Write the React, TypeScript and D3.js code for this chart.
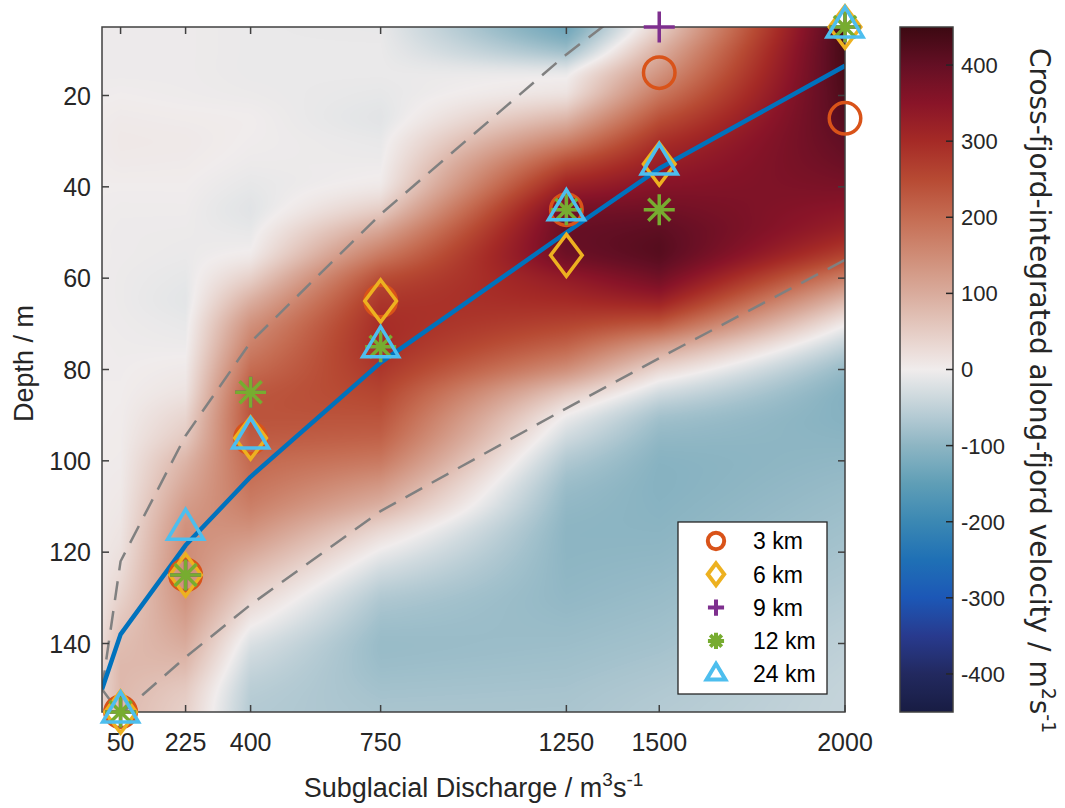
import React, { useMemo } from "react";
import * as d3 from "d3";

// Model runs: subglacial discharge (m^3 s^-1) and the depth of the outflow peak per distance
const discharge = [50, 225, 400, 750, 1250, 1500, 2000];
const depth3km = [155, 125, 95, 65, 45, 15, 25];
const depth6km = [155, 125, 95, 65, 55, 35, 5];
const depth9km = [155, 125, 85, 75, 45, 5, 5];
const depth12km = [155, 125, 85, 75, 45, 45, 5];
const depth24km = [155, 115, 95, 75, 45, 35, 5];

// Plume theory: neutral buoyancy depth and its upper / lower bounds
const curveDischarge = [0, 50, 225, 400, 750, 1250, 1500, 2000];
const curveDepth = [150, 138, 118.5, 103.5, 78.5, 50, 36, 13.5];
const upperDepth = [150, 122, 94.5, 74, 46, 11, -4.5, -35];
const lowerDepth = [150, 155.5, 143, 131.5, 111, 88.5, 77.5, 56];

// Cross-fjord-integrated along-fjord velocity, one column per discharge
const fieldDischarge = [0, 50, 225, 400, 750, 1250, 1500, 2000];
const fieldDepth = [5, 10, 15, 20, 25, 30, 35, 40, 45, 50, 55, 60, 65, 70, 75, 80, 85, 90, 95, 100, 105, 110, 115, 120, 125, 130, 135, 140, 145, 150, 155];
const vel0 = [-3, -3, -3, -1, 2, 3, 2, 0, -1, -2, -2, -2, -2, -2, -1, -1, 0, 0, 1, 2, 3, 4, 6, 8, 11, 15, 20, 27, 33, 38, 40];
const vel50 = [-3, -3, -3, 0, 4, 6, 4, 0, -2, -3, -3, -4, -4, -3, -2, -1, 0, 1, 2, 3, 5, 8, 12, 18, 28, 42, 58, 72, 80, 80, 78];
const vel225 = [-3, -3, -3, -2, 2, 5, 3, 0, -2, -4, -6, -10, -13, -8, -3, 5, 15, 35, 55, 85, 105, 125, 142, 150, 150, 138, 120, 100, 78, 55, 45];
const vel400 = [-6, -6, -6, -4, 0, -1, -4, -10, -16, -8, 5, 45, 95, 140, 170, 200, 228, 235, 225, 205, 190, 170, 140, 105, 70, 38, 8, -22, -42, -56, -62];
const vel750 = [-8, -6, -6, -10, -15, -8, -3, 8, 50, 115, 180, 245, 280, 295, 295, 280, 258, 238, 215, 180, 135, 90, 35, -5, -38, -65, -80, -88, -85, -78, -73];
const vel1250 = [-135, -85, -10, 20, 85, 165, 250, 320, 375, 395, 385, 335, 300, 260, 210, 145, 60, 0, -35, -65, -85, -95, -100, -100, -98, -95, -90, -85, -80, -75, -72];
const vel1500 = [45, 90, 135, 185, 240, 290, 325, 355, 385, 410, 415, 380, 320, 230, 120, 35, -30, -75, -95, -105, -107, -105, -102, -98, -93, -88, -83, -78, -72, -66, -62];
const vel2000 = [440, 440, 435, 428, 418, 405, 390, 370, 345, 315, 260, 170, 80, 5, -50, -90, -108, -108, -102, -96, -90, -85, -80, -75, -70, -64, -58, -53, -49, -46, -45];
const fieldColumns = [vel0, vel50, vel225, vel400, vel750, vel1250, vel1500, vel2000];

const xTicks = [50, 225, 400, 750, 1250, 1500, 2000];
const yTicks = [20, 40, 60, 80, 100, 120, 140];
const cbTicks = [-400, -300, -200, -100, 0, 100, 200, 300, 400];
const legendLabels = ["3 km", "6 km", "9 km", "12 km", "24 km"];

// Diverging balance palette
const paletteValues = [-450, -400, -350, -300, -250, -200, -150, -100, -50, 0, 50, 100, 150, 200, 250, 300, 350, 400, 450];
const paletteColors = [
  "#181c43", "#22295f", "#283a8e", "#1c57b6", "#1f70b5", "#3b88b3", "#5f9eb6", "#8db5c3", "#c0d1d8",
  "#f0ecec",
  "#e5ccc4", "#d9ab9c", "#cf8c76", "#c56c52", "#b74a33", "#a52a26", "#891428", "#640f24", "#3c0912",
];

const seriesColors = ["#D95319", "#EDB120", "#7E2F8E", "#77AC30", "#4DBEEE"];
const seriesKinds = ["circle", "diamond", "plus", "asterisk", "triangle"];
const seriesDepths = [depth3km, depth6km, depth9km, depth12km, depth24km];

const W = 1065;
const H = 808;
const x = d3.scaleLinear().domain([0, 2000]).range([102, 845]);
const y = d3.scaleLinear().domain([5, 155]).range([27, 712]);
const cb = d3.scaleLinear().domain([-450, 450]).range([712, 27]);
const color = d3
  .scaleLinear<string>()
  .domain(paletteValues)
  .range(paletteColors)
  .interpolate(d3.interpolateRgb)
  .clamp(true);

const TEXT = "#262626";
const SANS = "'Liberation Sans', Arial, Helvetica, sans-serif";

// Catmull-Rom sample of a column along depth
function sampleColumn(col: number[], d: number): number {
  const step = fieldDepth[1] - fieldDepth[0];
  const n = col.length - 1;
  let s = (d - fieldDepth[0]) / step;
  s = Math.max(0, Math.min(n, s));
  const i = Math.min(Math.floor(s), n - 1);
  const u = s - i;
  const p0 = col[Math.max(i - 1, 0)];
  const p1 = col[i];
  const p2 = col[i + 1];
  const p3 = col[Math.min(i + 2, n)];
  return (
    0.5 *
    (2 * p1 +
      (-p0 + p2) * u +
      (2 * p0 - 5 * p1 + 4 * p2 - p3) * u * u +
      (-p0 + 3 * p1 - 3 * p2 + p3) * u * u * u)
  );
}

function markerPath(kind: string, s: number): string {
  switch (kind) {
    case "diamond":
      return `M0,${-21 * s}L${15.8 * s},0L0,${21 * s}L${-15.8 * s},0Z`;
    case "plus":
      return `M${-15.5 * s},0H${15.5 * s}M0,${-15.5 * s}V${15.5 * s}`;
    case "asterisk":
      return `M${-15.5 * s},0H${15.5 * s}M0,${-15.5 * s}V${15.5 * s}M${-11 * s},${-11 * s}L${11 * s},${11 * s}M${-11 * s},${11 * s}L${11 * s},${-11 * s}`;
    case "triangle":
      return `M0,${-20 * s}L${18 * s},${10 * s}L${-18 * s},${10 * s}Z`;
    default:
      return "";
  }
}

function Marker({ kind, cx, cy, s, stroke, sw }: { kind: string; cx: number; cy: number; s: number; stroke: string; sw: number }) {
  if (kind === "circle") {
    return <circle cx={cx} cy={cy} r={15.75 * s} fill="none" stroke={stroke} strokeWidth={sw} />;
  }
  return (
    <path
      transform={`translate(${cx},${cy})`}
      d={markerPath(kind, s)}
      fill="none"
      stroke={stroke}
      strokeWidth={sw}
      strokeLinejoin="miter"
      strokeMiterlimit={10}
    />
  );
}

export default function App() {
  const [px0, px1] = x.range();
  const [py0, py1] = y.range();

  const heatmap = useMemo(() => {
    const w = Math.round(px1 - px0);
    const h = Math.round(py1 - py0);
    const canvas = document.createElement("canvas");
    canvas.width = w;
    canvas.height = h;
    const ctx = canvas.getContext("2d");
    if (!ctx) return "";
    // lookup table, one entry per unit of velocity
    const lut: number[][] = [];
    for (let v = -450; v <= 450; v++) {
      const c = d3.rgb(color(v));
      lut.push([c.r, c.g, c.b]);
    }
    const img = ctx.createImageData(w, h);
    const nCol = fieldDischarge.length;
    const colIndex: number[] = [];
    const colT: number[] = [];
    for (let i = 0; i < w; i++) {
      const q = x.invert(px0 + i + 0.5);
      let k = d3.bisectRight(fieldDischarge, q) - 1;
      k = Math.max(0, Math.min(nCol - 2, k));
      colIndex.push(k);
      colT.push((q - fieldDischarge[k]) / (fieldDischarge[k + 1] - fieldDischarge[k]));
    }
    for (let j = 0; j < h; j++) {
      const d = y.invert(py0 + j + 0.5);
      const vals = fieldColumns.map((col) => sampleColumn(col, d));
      for (let i = 0; i < w; i++) {
        const k = colIndex[i];
        const t = colT[i];
        const v = vals[k] * (1 - t) + vals[k + 1] * t;
        const idx = Math.max(0, Math.min(900, Math.round(v + 450)));
        const c = lut[idx];
        const o = (j * w + i) * 4;
        img.data[o] = c[0];
        img.data[o + 1] = c[1];
        img.data[o + 2] = c[2];
        img.data[o + 3] = 255;
      }
    }
    ctx.putImageData(img, 0, 0);
    return canvas.toDataURL();
  }, []);

  const line = d3
    .line<number>()
    .x((_, i) => x(curveDischarge[i]))
    .y((d) => y(d));

  const cbX0 = 900;
  const cbX1 = 953;

  const legendX0 = 678;
  const legendY0 = 522;
  const legendRow = 33.3;

  return (
    <svg
      width={W}
      height={H}
      viewBox={`0 0 ${W} ${H}`}
      style={{ position: "absolute", left: 0, top: 0, display: "block" }}
      fontFamily={SANS}
    >
      <defs>
        <clipPath id="plot-clip">
          <rect x={px0} y={py0} width={px1 - px0} height={py1 - py0} />
        </clipPath>
        <linearGradient id="cb-grad" x1="0" y1="1" x2="0" y2="0">
          {d3.range(-450, 451, 25).map((v) => (
            <stop key={v} offset={(v + 450) / 900} stopColor={color(v)} />
          ))}
        </linearGradient>
      </defs>
      <rect x={0} y={0} width={W} height={H} fill="#ffffff" />

      {/* velocity field */}
      {heatmap && (
        <image
          href={heatmap}
          x={px0}
          y={py0}
          width={px1 - px0}
          height={py1 - py0}
          preserveAspectRatio="none"
        />
      )}

      {/* theory curves */}
      <g clipPath="url(#plot-clip)" fill="none">
        <path d={line(upperDepth) || ""} stroke="#808080" strokeWidth={2.5} strokeDasharray="19 11" />
        <path d={line(lowerDepth) || ""} stroke="#808080" strokeWidth={2.5} strokeDasharray="19 11" />
        <path d={line(curveDepth) || ""} stroke="#0072BD" strokeWidth={4.5} strokeLinejoin="round" />
      </g>

      {/* axes box and ticks */}
      <g stroke="#404040" strokeWidth={1.5}>
        <rect x={px0} y={py0} width={px1 - px0} height={py1 - py0} fill="none" />
        {xTicks.map((t) => (
          <g key={t}>
            <line x1={x(t)} x2={x(t)} y1={py1} y2={py1 - 7} />
            <line x1={x(t)} x2={x(t)} y1={py0} y2={py0 + 7} />
          </g>
        ))}
        {yTicks.map((t) => (
          <g key={t}>
            <line x1={px0} x2={px0 + 7} y1={y(t)} y2={y(t)} />
            <line x1={px1} x2={px1 - 7} y1={y(t)} y2={y(t)} />
          </g>
        ))}
      </g>

      {/* markers */}
      {seriesDepths.map((depths, si) => (
        <g key={si}>
          {depths.map((d, i) => (
            <Marker
              key={i}
              kind={seriesKinds[si]}
              cx={x(discharge[i])}
              cy={y(d)}
              s={1}
              stroke={seriesColors[si]}
              sw={3.5}
            />
          ))}
        </g>
      ))}

      {/* tick labels */}
      <g fill={TEXT} fontSize={25}>
        {xTicks.map((t) => (
          <text key={t} x={x(t)} y={751} textAnchor="middle">
            {t}
          </text>
        ))}
        {yTicks.map((t) => (
          <text key={t} x={91} y={y(t)} dy="0.36em" textAnchor="end">
            {t}
          </text>
        ))}
      </g>

      {/* axis labels */}
      <text x={(px0 + px1) / 2} y={797} textAnchor="middle" fontSize={27} fill={TEXT}>
        Subglacial Discharge / m
        <tspan dy={-11} fontSize={19}>3</tspan>
        <tspan dy={11}>s</tspan>
        <tspan dy={-11} fontSize={19}>-1</tspan>
      </text>
      <text transform={`translate(33,363.5) rotate(-90)`} textAnchor="middle" fontSize={27} fill={TEXT}>
        Depth / m
      </text>

      {/* legend */}
      <g>
        <rect
          x={legendX0}
          y={legendY0}
          width={827 - legendX0}
          height={694 - legendY0}
          fill="#ffffff"
          stroke="#262626"
          strokeWidth={1.3}
        />
        {legendLabels.map((label, i) => {
          const cy = 541 + i * legendRow;
          return (
            <g key={label}>
              <Marker kind={seriesKinds[i]} cx={716} cy={cy} s={0.52} stroke={seriesColors[i]} sw={4} />
              <text x={753} y={cy} dy="0.36em" fontSize={23} fill="#000000">
                {label}
              </text>
            </g>
          );
        })}
      </g>

      {/* colour bar */}
      <rect x={cbX0} y={cb(450)} width={cbX1 - cbX0} height={cb(-450) - cb(450)} fill="url(#cb-grad)" stroke="#404040" strokeWidth={1.5} />
      <g stroke="#262626" strokeWidth={1.5}>
        {cbTicks.map((t) => (
          <line key={t} x1={cbX1} x2={cbX1 - 7} y1={cb(t)} y2={cb(t)} />
        ))}
      </g>
      <g fill={TEXT} fontSize={22}>
        {cbTicks.map((t) => (
          <text key={t} x={961} y={cb(t)} dy="0.36em">
            {t}
          </text>
        ))}
      </g>
      <text
        transform={`translate(1030,48) rotate(90)`}
        fontFamily="'DejaVu Sans', Verdana, sans-serif"
        fontSize={28}
        fill={TEXT}
      >
        Cross-fjord-integrated along-fjord velocity / m
        <tspan dy={-12} fontSize={19}>2</tspan>
        <tspan dy={12}>s</tspan>
        <tspan dy={-12} fontSize={19}>-1</tspan>
      </text>
    </svg>
  );
}
